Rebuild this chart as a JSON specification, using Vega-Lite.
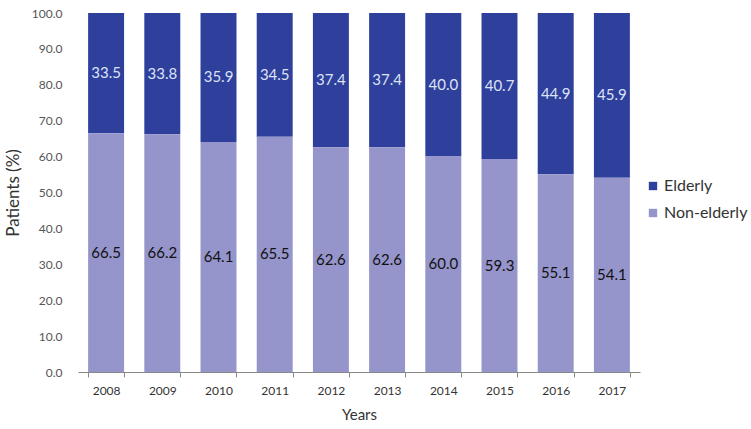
{
  "$schema": "https://vega.github.io/schema/vega-lite/v6.json",
  "autosize": "none",
  "width": 562,
  "height": 359,
  "padding": {"left": 78, "top": 13, "right": 111, "bottom": 57},
  "background": "white",
  "config": {
    "font": "Lato",
    "view": {"stroke": null},
    "axis": {"grid": false, "labelFont": "Lato", "titleFont": "Lato", "titleFontWeight": "normal"}
  },
  "data": {
    "values": [
      {"year": "2008", "group": "Elderly", "pct": 33.5},
      {"year": "2008", "group": "Non-elderly", "pct": 66.5},
      {"year": "2009", "group": "Elderly", "pct": 33.8},
      {"year": "2009", "group": "Non-elderly", "pct": 66.2},
      {"year": "2010", "group": "Elderly", "pct": 35.9},
      {"year": "2010", "group": "Non-elderly", "pct": 64.1},
      {"year": "2011", "group": "Elderly", "pct": 34.5},
      {"year": "2011", "group": "Non-elderly", "pct": 65.5},
      {"year": "2012", "group": "Elderly", "pct": 37.4},
      {"year": "2012", "group": "Non-elderly", "pct": 62.6},
      {"year": "2013", "group": "Elderly", "pct": 37.4},
      {"year": "2013", "group": "Non-elderly", "pct": 62.6},
      {"year": "2014", "group": "Elderly", "pct": 40.0},
      {"year": "2014", "group": "Non-elderly", "pct": 60.0},
      {"year": "2015", "group": "Elderly", "pct": 40.7},
      {"year": "2015", "group": "Non-elderly", "pct": 59.3},
      {"year": "2016", "group": "Elderly", "pct": 44.9},
      {"year": "2016", "group": "Non-elderly", "pct": 55.1},
      {"year": "2017", "group": "Elderly", "pct": 45.9},
      {"year": "2017", "group": "Non-elderly", "pct": 54.1}
    ]
  },
  "transform": [
    {
      "stack": "pct",
      "groupby": ["year"],
      "sort": [{"field": "group", "order": "descending"}],
      "as": ["y0", "y1"]
    },
    {"calculate": "(datum.y0 + datum.y1) / 2", "as": "ymid"}
  ],
  "encoding": {
    "x": {
      "field": "year",
      "type": "ordinal",
      "title": "Years",
      "scale": {"paddingInner": 0.36, "paddingOuter": 0.18},
      "axis": {
        "labelAngle": 0,
        "labelFontSize": 12,
        "labelColor": "#333333",
        "labelPadding": 8,
        "tickBand": "extent",
        "tickSize": 5,
        "tickColor": "#888888",
        "domainColor": "#888888",
        "titleFontSize": 15,
        "titleColor": "#333333",
        "titlePadding": 11
      }
    }
  },
  "layer": [
    {
      "mark": {"type": "bar"},
      "encoding": {
        "y": {
          "field": "y0",
          "type": "quantitative",
          "title": "Patients (%)",
          "scale": {"domain": [0, 100]},
          "axis": {
            "values": [0, 10, 20, 30, 40, 50, 60, 70, 80, 90, 100],
            "format": ".1f",
            "labelOverlap": false,
            "domain": false,
            "ticks": false,
            "labelPadding": 16,
            "labelFontSize": 12,
            "labelColor": "#555555",
            "titleFontSize": 17,
            "titleColor": "#333333",
            "titlePadding": 9
          }
        },
        "y2": {"field": "y1"},
        "color": {
          "field": "group",
          "type": "nominal",
          "title": null,
          "scale": {"domain": ["Elderly", "Non-elderly"], "range": ["#2E3F9C", "#9595CB"]},
          "legend": {
            "orient": "none",
            "legendX": 567,
            "legendY": 165,
            "symbolType": "square",
            "symbolSize": 70,
            "symbolStrokeWidth": 0,
            "labelFontSize": 16,
            "labelColor": "#333333",
            "labelFont": "Lato",
            "labelLimit": 120,
            "rowPadding": 11,
            "labelOffset": 3
          }
        }
      }
    },
    {
      "mark": {"type": "text", "fontSize": 15, "baseline": "middle"},
      "encoding": {
        "y": {
          "field": "ymid",
          "type": "quantitative",
          "title": "Patients (%)",
          "scale": {"domain": [0, 100]},
          "axis": {
            "values": [0, 10, 20, 30, 40, 50, 60, 70, 80, 90, 100],
            "format": ".1f",
            "labelOverlap": false,
            "domain": false,
            "ticks": false,
            "labelPadding": 16,
            "labelFontSize": 12,
            "labelColor": "#555555",
            "titleFontSize": 17,
            "titleColor": "#333333",
            "titlePadding": 9
          }
        },
        "text": {"field": "pct", "type": "quantitative", "format": ".1f"},
        "color": {
          "condition": {"test": "datum.group === 'Elderly'", "value": "#dde3f6"},
          "value": "#111111"
        }
      }
    }
  ]
}
